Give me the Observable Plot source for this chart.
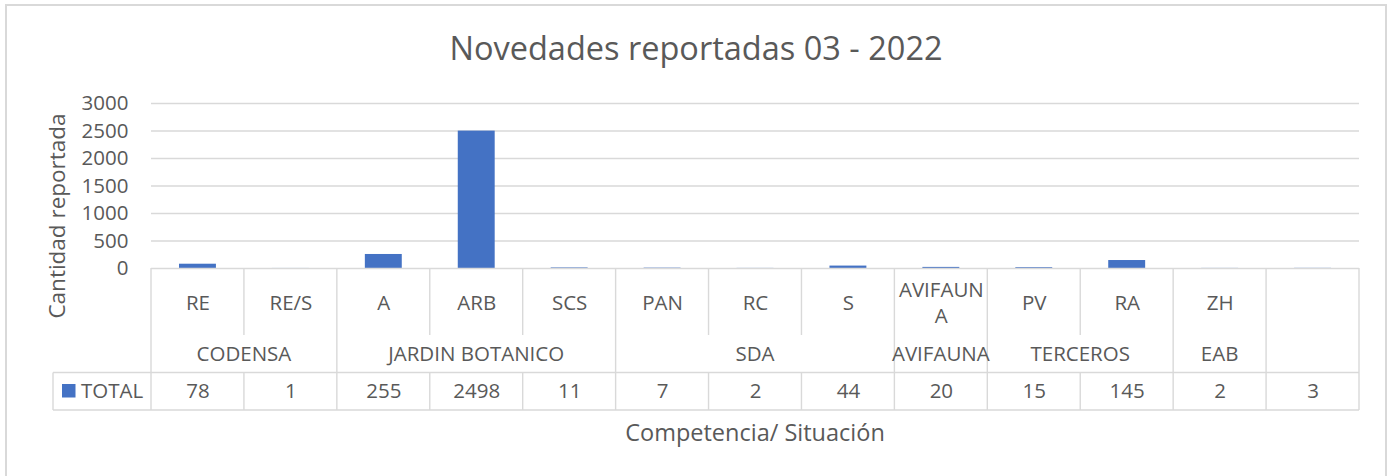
<!DOCTYPE html>
<html>
<head>
<meta charset="utf-8">
<script src="https://cdn.jsdelivr.net/npm/d3@7"></script>
<script src="https://cdn.jsdelivr.net/npm/@observablehq/plot@0.6"></script>
<style>
  html, body { margin: 0; padding: 0; background: #fff; }
  #wrap { position: relative; width: 1388px; height: 476px; overflow: hidden; font-family: "Open Sans", sans-serif; color: #595959; }
  #frame { position: absolute; left: 5px; top: 4px; width: 1378px; height: 490px; border: 2px solid #d9d9d9; box-sizing: content-box; }
  #title { position: absolute; left: 5px; width: 1382px; top: 27px; height: 42px; line-height: 42px; text-align: center; font-size: 32.5px; color: #595959; white-space: nowrap; }
  #chart { position: absolute; left: 0; top: 75px; }
</style>
</head>
<body>
<div id="wrap">
  <div id="frame"></div>
  <div id="title">Novedades reportadas 03 - 2022</div>
  <div id="chart"></div>
</div>
<script>
// ---- data ----
const categoryLabels = ["RE", "RE/S", "A", "ARB", "SCS", "PAN", "RC", "S", "AVIFAUN\nA", "PV", "RA", "ZH", ""];
const groupLabels = ["CODENSA", "CODENSA", "JARDIN BOTANICO", "JARDIN BOTANICO", "JARDIN BOTANICO", "SDA", "SDA", "SDA", "AVIFAUNA", "TERCEROS", "TERCEROS", "EAB", ""];
const totals = [78, 1, 255, 2498, 11, 7, 2, 44, 20, 15, 145, 2, 3];
const seriesName = "TOTAL";
const yTicks = [0, 500, 1000, 1500, 2000, 2500, 3000];
const yTitle = "Cantidad reportada";
const xTitle = "Competencia/ Situación";

const data = categoryLabels.map((label, i) => ({ key: i, label, group: groupLabels[i], value: totals[i] }));
const keys = data.map(d => d.key);

// ---- layout ----
const W = 1388, H = 401, MT = 28, ML = 151, MR = 29, MB = 208;
const textColor = "#595959", gridColor = "#d9d9d9", barColor = "#4472C4";
const font = "'Open Sans', sans-serif";

const plot = Plot.plot({
  width: W, height: H,
  marginTop: MT, marginLeft: ML, marginRight: MR, marginBottom: MB,
  style: { fontFamily: font, fontSize: "20.5px", color: textColor, background: "transparent", overflow: "visible" },
  x: { type: "band", domain: keys, padding: 0, round: false, axis: null },
  y: { domain: [0, 3000], ticks: 6, tickSize: 0, tickPadding: 23, label: null, tickFormat: d => String(d) },
  marks: [
    Plot.ruleY(yTicks.filter(t => t > 0), { stroke: gridColor, strokeWidth: 1.4 }),
    Plot.barY(data, { x: "key", y: "value", fill: barColor, insetLeft: 28, insetRight: 28 }),
    Plot.ruleY([0], { stroke: gridColor, strokeWidth: 1.6 }),
    Plot.text(data, { x: "key", text: "label", frameAnchor: "bottom", lineAnchor: "middle", dy: 33, lineHeight: 1.3, fill: textColor, fontSize: 20.5 }),
    Plot.text(data, { x: "key", text: d => String(d.value), frameAnchor: "bottom", lineAnchor: "middle", dy: 123, fill: textColor, fontSize: 20.5 })
  ]
});
document.getElementById("chart").appendChild(plot);

// ---- table (data table under the axis), drawn from the plot's x scale ----
const xs = plot.scale("x");
const n = keys.length;
const bw = xs.bandwidth != null ? xs.bandwidth : (xs.range[1] - xs.range[0]) / n;
const bx = i => (i < n ? xs.apply(keys[i]) : xs.apply(keys[n - 1]) + bw);

const yTop = H - MB;        // 0 line / table top
const yGroupTop = yTop + 67;
const yTotTop = yTop + 104.5;
const yTotBot = yTop + 142;
const xLegend = 53;

const svg = d3.select(plot);
const g = svg.append("g").attr("stroke", gridColor).attr("stroke-width", 1.4).attr("fill", "none");

g.append("line").attr("x1", xLegend).attr("x2", bx(n)).attr("y1", yTotTop).attr("y2", yTotTop);
g.append("line").attr("x1", xLegend).attr("x2", bx(n)).attr("y1", yTotBot).attr("y2", yTotBot);
g.append("line").attr("x1", xLegend).attr("x2", xLegend).attr("y1", yTotTop).attr("y2", yTotBot);

for (let i = 0; i <= n; i++) {
  const x = bx(i);
  const full = i === 0 || i === n || groupLabels[i] !== groupLabels[i - 1];
  if (full) {
    g.append("line").attr("x1", x).attr("x2", x).attr("y1", yTop).attr("y2", yTotBot);
  } else {
    g.append("line").attr("x1", x).attr("x2", x).attr("y1", yTop).attr("y2", yGroupTop);
    g.append("line").attr("x1", x).attr("x2", x).attr("y1", yTotTop).attr("y2", yTotBot);
  }
}

// group labels
const groups = [];
groupLabels.forEach((gname, i) => {
  const last = groups[groups.length - 1];
  if (last && last.name === gname) last.end = i; else groups.push({ name: gname, start: i, end: i });
});
const tg = svg.append("g").attr("fill", textColor).attr("font-family", font).attr("font-size", 20.5).attr("text-anchor", "middle");
groups.filter(d => d.name).forEach(d => {
  tg.append("text").attr("x", (bx(d.start) + bx(d.end + 1)) / 2).attr("y", yTop + 86).attr("dy", "0.35em").text(d.name);
});

// legend cell
svg.append("rect").attr("x", 62).attr("y", yTop + 116).attr("width", 13.5).attr("height", 13.5).attr("fill", barColor);
svg.append("text").attr("x", 81).attr("y", yTop + 122.5).attr("dy", "0.35em").attr("fill", textColor).attr("text-anchor", "start")
  .attr("font-family", font).attr("font-size", 20.5).text(seriesName);

// axis titles
svg.append("text").attr("transform", `translate(57, ${216 - 75}) rotate(-90)`).attr("text-anchor", "middle").attr("dy", "0.35em")
  .attr("fill", textColor).attr("font-family", font).attr("font-size", 22.5).text(yTitle);
svg.append("text").attr("x", (bx(0) + bx(n)) / 2).attr("y", 433 - 75).attr("dy", "0.35em").attr("text-anchor", "middle")
  .attr("fill", textColor).attr("font-family", font).attr("font-size", 23.5).text(xTitle);
</script>
</body>
</html>
